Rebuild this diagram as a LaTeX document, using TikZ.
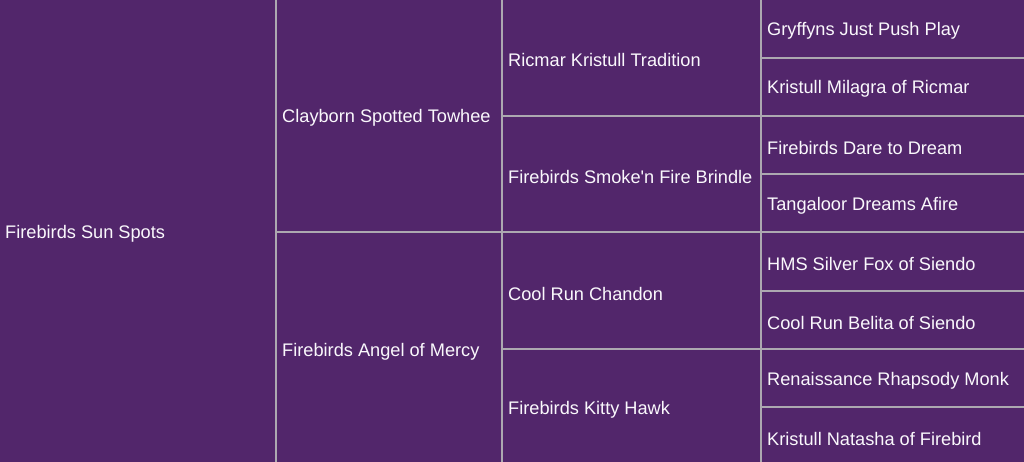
\documentclass[tikz,border=0pt]{standalone}
\usepackage{fontspec}
\setmainfont{Liberation Sans}[Ligatures=TeXOff]
\definecolor{bgpurple}{RGB}{82,38,107}
\definecolor{gridgray}{RGB}{172,168,176}
\definecolor{txt}{RGB}{250,248,252}
\begin{document}
\begin{tikzpicture}[x=1pt,y=-1pt,
  cell/.style={anchor=west,text=txt,font=\fontsize{18.2}{21}\selectfont,inner sep=0pt},
  grid/.style={draw=gridgray,line width=2pt}]
\fill[bgpurple] (0,0) rectangle (1024,462);
\useasboundingbox (0,0) rectangle (1024,462);
% grid lines
\draw[grid] (276,0) -- (276,462);
\draw[grid] (502,0) -- (502,462);
\draw[grid] (761,0) -- (761,462);
\draw[grid] (276,232) -- (1024,232);
\draw[grid] (502,116) -- (1024,116);
\draw[grid] (502,349) -- (1024,349);
\draw[grid] (761,58) -- (1024,58);
\draw[grid] (761,174) -- (1024,174);
\draw[grid] (761,291) -- (1024,291);
\draw[grid] (761,407) -- (1024,407);
% texts
\node[cell] (g1) at (5,233.5) {Firebirds Sun Spots};
\node[cell] (g2a) at (282,117.5) {Clayborn Spotted Towhee};
\node[cell] (g2b) at (282,351.5) {Firebirds Angel of Mercy};
\node[cell] (g3a) at (508,59.5) {Ricmar Kristull Tradition};
\node[cell] (g3b) at (508,176.5) {Firebirds Smoke'n Fire Brindle};
\node[cell] (g3c) at (508,293.5) {Cool Run Chandon};
\node[cell] (g3d) at (508,409.5) {Firebirds Kitty Hawk};
\node[cell] (g4a) at (767,30.5) {Gryffyns Just Push Play};
\node[cell] (g4b) at (767,88.5) {Kristull Milagra of Ricmar};
\node[cell] (g4c) at (767,147.5) {Firebirds Dare to Dream};
\node[cell] (g4d) at (767,205.5) {Tangaloor Dreams Afire};
\node[cell] (g4e) at (767,263.5) {HMS Silver Fox of Siendo};
\node[cell] (g4f) at (767,322.5) {Cool Run Belita of Siendo};
\node[cell] (g4g) at (767,380.5) {Renaissance Rhapsody Monk};
\node[cell] (g4h) at (767,438.5) {Kristull Natasha of Firebird};
\end{tikzpicture}
\end{document}
